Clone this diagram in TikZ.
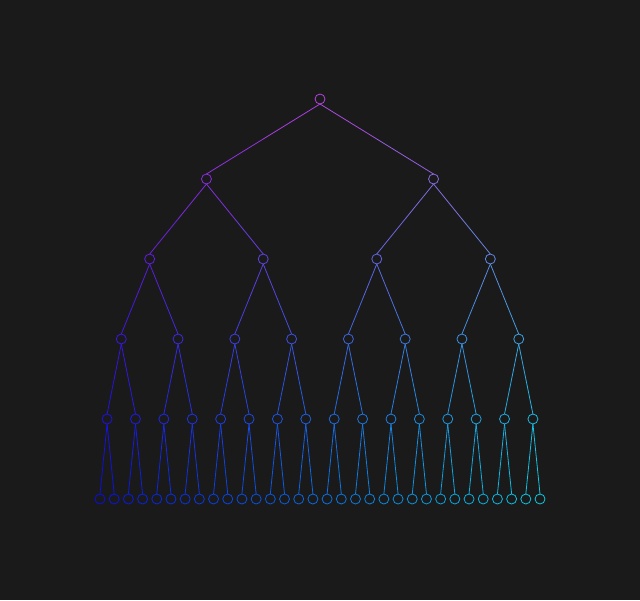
\documentclass[tikz,border=0pt]{standalone}
\usetikzlibrary{calc}
\definecolor{bgDark}{RGB}{26, 26, 26}

% colour of a point of the tree: depth #2, horizontal position #3
\newcommand{\setTreeCol}[3]{%
  \pgfmathsetmacro{\colD}{#2}%
  \pgfmathsetmacro{\colX}{#3}%
  \pgfmathtruncatemacro{\colR}{10+170*(1-\colD/5+0.001)^1.3}%
  \pgfmathtruncatemacro{\colG}{min(255,15+190*((\colX-100)/440)*(0.55+0.09*\colD))}%
  \definecolor{#1}{RGB}{\colR,\colG,225}%
}
% x of node #2 on level #1
\newcommand{\treeX}[2]{100+14.194*(#2*2^(5-#1)+(2^(5-#1)-1)/2)}

\begin{document}
\begin{tikzpicture}[
    x=1pt, y=-1pt,
    treenode/.style={circle, minimum size=10pt, inner sep=0pt, outer sep=0pt, line width=0.8pt},
    treeedge/.style={line width=0.8pt}
  ]
    % Background
    \fill[bgDark] (0,0) rectangle (640,600);

    % Nodes, level by level
    \foreach \d in {0,...,5}{
      \pgfmathtruncatemacro{\n}{2^\d-1}
      \foreach \i in {0,...,\n}{
        \pgfmathsetmacro{\xx}{\treeX{\d}{\i}}
        \setTreeCol{nodeCol}{\d}{\xx}
        \node[treenode, draw=nodeCol] (n-\d-\i) at (\xx, 99+80*\d) {};
      }
    }

    % Edges, parent to child, in two shaded halves
    \foreach \d in {1,...,5}{
      \pgfmathtruncatemacro{\n}{2^\d-1}
      \pgfmathtruncatemacro{\p}{\d-1}
      \foreach \i in {0,...,\n}{
        \pgfmathtruncatemacro{\j}{div(\i,2)}
        \pgfmathsetmacro{\xp}{\treeX{\p}{\j}}
        \pgfmathsetmacro{\xc}{\treeX{\d}{\i}}
        \setTreeCol{upperCol}{\d-0.75}{0.75*\xp+0.25*\xc}
        \setTreeCol{lowerCol}{\d-0.25}{0.25*\xp+0.75*\xc}
        \coordinate (m-\d-\i) at ($(n-\p-\j.south)!0.5!(n-\d-\i.north)$);
        \draw[treeedge, draw=upperCol] (n-\p-\j.south) -- (m-\d-\i);
        \draw[treeedge, draw=lowerCol] (m-\d-\i) -- (n-\d-\i.north);
      }
    }
\end{tikzpicture}
\end{document}
